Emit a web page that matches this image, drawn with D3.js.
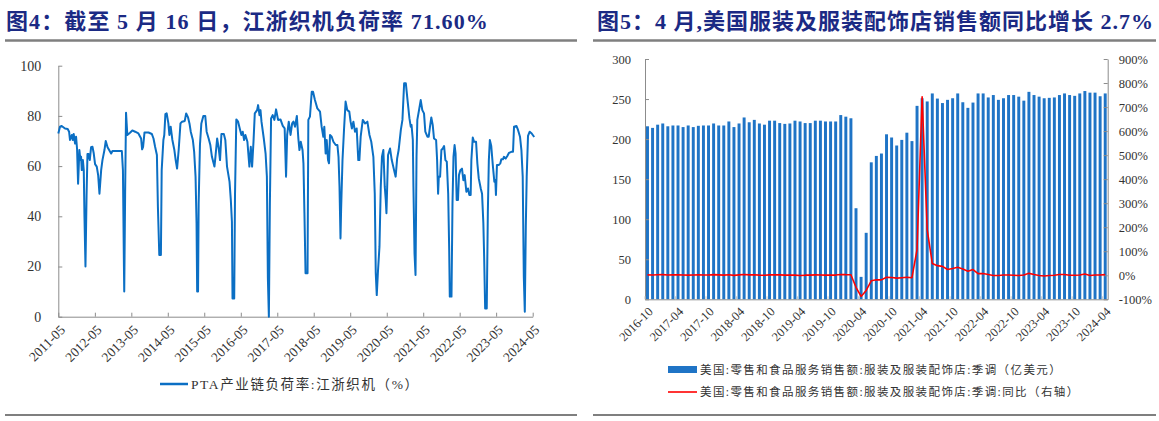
<!DOCTYPE html>
<html>
<head>
<meta charset="utf-8">
<script src="https://cdn.jsdelivr.net/npm/d3@7"></script>
<style>
  body { margin: 0; background: #fff; }
  svg { display: block; }
  .title { font-family: "Liberation Serif", "Noto Sans CJK SC", serif; font-weight: bold; fill: #1b2a84; }
  .tick text, .lbl { font-family: "Liberation Serif", "Noto Sans CJK SC", serif; fill: #333; }
  .legend { font-family: "Liberation Serif", "Noto Sans CJK SC", serif; fill: #333; }
</style>
</head>
<body>
<svg id="chart" width="1159" height="421"></svg>
<script>
// ---- left chart: weekly loom load rate, Jiangsu & Zhejiang (%)
const loadRate = [
  ["2011-05-01", 73], ["2011-05-18", 75.7], ["2011-06-04", 76], ["2011-07-07", 75], ["2011-08-03", 74.8],
  ["2011-08-17", 73.7], ["2011-08-26", 70.4], ["2011-09-13", 72.4], ["2011-09-23", 70.4], ["2011-10-02", 72.8],
  ["2011-10-16", 69], ["2011-10-26", 71.7], ["2011-11-05", 66.7], ["2011-11-15", 53], ["2011-11-28", 66.4],
  ["2011-12-08", 62.4], ["2011-12-15", 63.7], ["2011-12-22", 58.4], ["2012-01-02", 62.4], ["2012-01-11", 58.4],
  ["2012-01-18", 39.8], ["2012-01-28", 20], ["2012-02-08", 48.5], ["2012-02-17", 64.8], ["2012-02-28", 64.8],
  ["2012-03-11", 62.4], ["2012-03-24", 67.5], ["2012-04-07", 67.7], ["2012-04-20", 65], ["2012-05-03", 60.8],
  ["2012-05-20", 59.8], ["2012-06-03", 56.4], ["2012-06-16", 49], ["2012-07-03", 58.4], ["2012-07-16", 62.4],
  ["2012-08-05", 66.4], ["2012-08-18", 70], ["2012-09-05", 67.5], ["2012-09-21", 66.4], ["2012-10-11", 65],
  ["2012-10-24", 66], ["2013-01-26", 66], ["2013-02-06", 58.4], ["2013-02-16", 20], ["2013-02-19", 10],
  ["2013-02-28", 49], ["2013-03-09", 81.3], ["2013-03-22", 72.4], ["2013-04-18", 73.3], ["2013-05-11", 74.2],
  ["2013-06-08", 73.7], ["2013-07-11", 73], ["2013-08-07", 71], ["2013-08-17", 66.7], ["2013-08-27", 67.7],
  ["2013-09-10", 73.4], ["2013-10-20", 73.4], ["2013-11-22", 72.8], ["2013-12-09", 71], ["2013-12-25", 67.7],
  ["2014-01-12", 64.4], ["2014-01-22", 43.8], ["2014-02-05", 24.6], ["2014-02-21", 24.6], ["2014-03-01", 58.4],
  ["2014-03-18", 70.4], ["2014-03-27", 72.4], ["2014-04-07", 80.7], ["2014-04-20", 81], ["2014-05-07", 77],
  ["2014-05-17", 72.4], ["2014-05-30", 75.7], ["2014-06-16", 70.4], ["2014-07-06", 66.4], ["2014-07-19", 62.4],
  ["2014-08-02", 59], ["2014-08-18", 66.4], ["2014-09-05", 77], ["2014-09-21", 77.7], ["2014-10-18", 78],
  ["2014-11-01", 81], ["2014-11-20", 79.4], ["2014-12-04", 77], ["2014-12-17", 73.7], ["2015-01-07", 70.4],
  ["2015-01-20", 65.7], ["2015-02-03", 55.8], ["2015-02-13", 37.2], ["2015-02-19", 10], ["2015-02-28", 10],
  ["2015-03-06", 45], ["2015-03-19", 68.4], ["2015-04-02", 77], ["2015-04-22", 80], ["2015-05-11", 80],
  ["2015-05-25", 73.7], ["2015-06-14", 71], ["2015-07-01", 68.4], ["2015-07-17", 63.7], ["2015-08-11", 59.8],
  ["2015-08-21", 63.7], ["2015-09-07", 71], ["2015-09-23", 67], ["2015-10-06", 62.4], ["2015-10-20", 72.8],
  ["2015-11-13", 72.8], ["2015-11-28", 70.4], ["2015-12-15", 59.8], ["2016-01-09", 53.8], ["2016-01-22", 46.5],
  ["2016-02-02", 37.8], ["2016-02-08", 7.3], ["2016-02-25", 7.3], ["2016-03-04", 49], ["2016-03-17", 78.6],
  ["2016-04-04", 77.7], ["2016-04-24", 74.4], ["2016-05-07", 72.4], ["2016-05-20", 73.7], ["2016-06-03", 70.4],
  ["2016-06-16", 72.4], ["2016-07-06", 69.7], ["2016-07-26", 59.8], ["2016-08-09", 67.7], ["2016-08-22", 59.8],
  ["2016-09-05", 69.7], ["2016-09-18", 81], ["2016-10-11", 82.3], ["2016-10-21", 84.3], ["2016-11-04", 80.3],
  ["2016-11-14", 82.3], ["2016-11-24", 77.7], ["2016-12-17", 71], ["2017-01-04", 65], ["2017-01-17", 55.8],
  ["2017-01-27", 15.3], ["2017-02-06", 0], ["2017-02-16", 45], ["2017-02-28", 79], ["2017-03-16", 80.3],
  ["2017-04-02", 78.4], ["2017-04-19", 82.6], ["2017-05-09", 78.4], ["2017-06-02", 78.6], ["2017-06-25", 76],
  ["2017-07-14", 75], ["2017-07-28", 55.8], ["2017-08-08", 72.4], ["2017-08-24", 77.7], ["2017-09-11", 72.4],
  ["2017-09-27", 77], ["2017-10-10", 77.7], ["2017-10-26", 75.7], ["2017-11-13", 80], ["2017-11-28", 71],
  ["2017-12-09", 66.4], ["2017-12-22", 69.7], ["2018-01-09", 66.4], ["2018-01-18", 61.1], ["2018-01-28", 41.2],
  ["2018-02-08", 17.3], ["2018-02-28", 17.3], ["2018-03-08", 78.4], ["2018-03-24", 79.7], ["2018-04-11", 89.6],
  ["2018-04-24", 89.6], ["2018-05-13", 86.3], ["2018-06-06", 83], ["2018-07-03", 81.7], ["2018-07-19", 75.7],
  ["2018-08-05", 71.7], ["2018-08-15", 75.7], ["2018-08-28", 65], ["2018-09-08", 70.4], ["2018-09-21", 62.4],
  ["2018-10-01", 61.1], ["2018-10-11", 72.4], ["2018-10-28", 71.7], ["2018-11-14", 69.7], ["2018-12-07", 68.4],
  ["2018-12-24", 68.4], ["2019-01-04", 63.7], ["2019-01-14", 51.8], ["2019-01-24", 31.2], ["2019-01-30", 42.5],
  ["2019-02-13", 62.4], ["2019-02-28", 74.4], ["2019-03-16", 85.7], ["2019-04-02", 82.3], ["2019-04-22", 81.7],
  ["2019-05-05", 77.7], ["2019-05-18", 75], ["2019-06-02", 77.7], ["2019-06-18", 73.7], ["2019-07-05", 75],
  ["2019-07-21", 62.4], ["2019-08-01", 62.4], ["2019-08-14", 71.7], ["2019-09-04", 78.4], ["2019-09-27", 77],
  ["2019-10-20", 77.7], ["2019-11-10", 72.4], ["2019-11-28", 69.7], ["2019-12-19", 63.7], ["2020-01-02", 49],
  ["2020-01-12", 17.3], ["2020-01-22", 8.6], ["2020-02-02", 17.3], ["2020-02-18", 27.9], ["2020-03-02", 51.8],
  ["2020-03-14", 63.7], ["2020-03-28", 66.4], ["2020-04-11", 51.8], ["2020-04-21", 46.5], ["2020-04-28", 41.2],
  ["2020-05-14", 64.4], ["2020-06-03", 67], ["2020-06-20", 62.4], ["2020-07-13", 58.4], ["2020-07-29", 55.8],
  ["2020-08-13", 63.1], ["2020-08-28", 66.4], ["2020-09-19", 74.4], ["2020-10-05", 78.4], ["2020-10-22", 93],
  ["2020-11-08", 93], ["2020-11-25", 86.3], ["2020-12-14", 79], ["2020-12-27", 75.7], ["2021-01-04", 76.4],
  ["2021-01-17", 70.4], ["2021-01-23", 51.8], ["2021-02-03", 25.2], ["2021-02-13", 16.6], ["2021-02-23", 63.7],
  ["2021-03-03", 78.4], ["2021-03-20", 82.3], ["2021-04-06", 86.3], ["2021-04-22", 82.3], ["2021-05-09", 81],
  ["2021-05-22", 73.7], ["2021-06-12", 71.7], ["2021-06-25", 71.7], ["2021-07-08", 75.7], ["2021-07-21", 79.4],
  ["2021-08-04", 76.4], ["2021-08-17", 71], ["2021-09-07", 70.4], ["2021-09-17", 62.4], ["2021-09-27", 49],
  ["2021-10-04", 55.8], ["2021-10-17", 55.8], ["2021-10-30", 66.4], ["2021-11-13", 67], ["2021-11-26", 68],
  ["2021-12-09", 62.4], ["2021-12-23", 61.8], ["2022-01-06", 49], ["2022-01-16", 26.6], ["2022-01-22", 8],
  ["2022-02-08", 8], ["2022-02-18", 45], ["2022-02-28", 63.7], ["2022-03-11", 68.4], ["2022-03-21", 65],
  ["2022-04-01", 46.5], ["2022-04-14", 46.5], ["2022-04-24", 56.4], ["2022-05-08", 58.4], ["2022-05-24", 59],
  ["2022-06-07", 54.4], ["2022-06-20", 56.4], ["2022-07-07", 49.8], ["2022-07-23", 51.1], ["2022-08-06", 48.5],
  ["2022-08-19", 48.5], ["2022-08-26", 62.4], ["2022-09-09", 71.4], ["2022-09-22", 69.7], ["2022-10-12", 69.7],
  ["2022-10-25", 61.1], ["2022-11-08", 55.1], ["2022-11-28", 51.1], ["2022-12-11", 49], ["2022-12-24", 37.2],
  ["2023-01-01", 23.9], ["2023-01-11", 3.3], ["2023-01-27", 3.3], ["2023-02-07", 41.8], ["2023-02-17", 62.4],
  ["2023-02-27", 70.4], ["2023-03-13", 68], ["2023-03-30", 59.8], ["2023-04-13", 53.8], ["2023-04-23", 54.4],
  ["2023-04-29", 48.5], ["2023-05-09", 60.4], ["2023-05-26", 60.4], ["2023-06-12", 61.1], ["2023-06-22", 62.7],
  ["2023-07-08", 62.7], ["2023-07-18", 63.7], ["2023-08-05", 63], ["2023-08-21", 64], ["2023-09-07", 65.3],
  ["2023-09-30", 65.7], ["2023-10-17", 65.7], ["2023-10-27", 75.7], ["2023-11-20", 76], ["2023-12-06", 74.4],
  ["2023-12-26", 71.7], ["2024-01-09", 66.4], ["2024-01-22", 55.8], ["2024-02-02", 15.9], ["2024-02-12", 2],
  ["2024-02-22", 35.9], ["2024-03-02", 55.8], ["2024-03-15", 72], ["2024-04-01", 73.7], ["2024-04-21", 73],
  ["2024-05-16", 71.6]
];
const loadTicks = ["2011-05", "2012-05", "2013-05", "2014-05", "2015-05", "2016-05", "2017-05",
  "2018-05", "2019-05", "2020-05", "2021-05", "2022-05", "2023-05", "2024-05"];
const loadYTicks = [0, 20, 40, 60, 80, 100];

// ---- right chart: US clothing & accessories store sales, monthly from 2016-10
const salesStart = "2016-10";
const salesValues = [
  216, 214, 218, 219.5, 216, 217, 217, 215, 217, 215, 216.6, 217, 217, 219.5, 217, 217, 222, 215, 219.5, 227,
  221, 224, 219.5, 218, 223, 223, 220, 219, 219.5, 223, 222, 220, 220, 223, 223, 222, 222, 222, 230, 228,
  226, 113.7, 28, 83, 171, 179, 182, 206, 202, 192, 199, 208, 197.5, 241.5, 251, 247, 257, 250.6, 245, 249,
  251, 257, 246, 239, 245.6, 257, 257, 252, 255, 249, 251, 255, 255, 253, 248, 259, 255, 253, 251, 251.5,
  252, 255, 257, 255, 254, 257, 260, 258, 258, 253.5, 257
];
const yoyValues = [
  1.5, 1.2, 2.0, 2.5, 1.0, 1.8, 1.6, 1.0, 0.8, 1.2, 1.5, 1.0, 1.4, 2.8, 1.6, 0.5, 2.3, -0.5, 1.8, 3.5,
  1.5, 2.2, 0.6, 0.2, 1.8, 1.6, 1.5, 0.8, 1.3, 0.6, -0.8, 0.4, 0.6, 1.5, 1.2, 0.5, 1.0, 0.8, 3.5, 2.5,
  2.0, -50, -88, -63, -23, -19, -19, -8, -9, -12, -10, -8, -10, 107, 743, 190, 49, 40, 37, 24,
  28, 33, 26, 17, 24, 7, 7, 3, -1, -1, 1, 1, 0, -1, 1, 8, 3, -1, -3, -1,
  0, 3, 3, 0, 0, 1, 5, -1, 1, 1, 2.7
];
const salesTicks = ["2016-10", "2017-04", "2017-10", "2018-04", "2018-10", "2019-04", "2019-10", "2020-04",
  "2020-10", "2021-04", "2021-10", "2022-04", "2022-10", "2023-04", "2023-10", "2024-04"];
const salesYTicks = [0, 50, 100, 150, 200, 250, 300];
const yoyYTicks = [-100, 0, 100, 200, 300, 400, 500, 600, 700, 800, 900];

const svg = d3.select('#chart');
const parseDay = d3.timeParse('%Y-%m-%d');
const parseMonth = d3.timeParse('%Y-%m');
const fmtMonth = d3.timeFormat('%Y-%m');
const axisColor = '#8c8c8c';

function styleAxis(g, size) {
  g.select('.domain').attr('stroke', axisColor);
  g.selectAll('.tick line').attr('stroke', axisColor);
  g.selectAll('.tick text').style('font-size', size + 'px');
}

// titles and frame lines
svg.append('text').attr('class', 'title').attr('x', 6).attr('y', 29)
  .style('font-size', '22px').style('letter-spacing', '1.1px')
  .text('图4：截至 5 月 16 日，江浙织机负荷率 71.60%');
svg.append('text').attr('class', 'title').attr('x', 597).attr('y', 29)
  .style('font-size', '22px').style('letter-spacing', '1px')
  .text('图5：4 月,美国服装及服装配饰店销售额同比增长 2.7%');
[[5, 577], [593, 1156]].forEach(([x1, x2]) => {
  svg.append('line').attr('x1', x1).attr('x2', x2).attr('y1', 40.5).attr('y2', 40.5)
    .attr('stroke', '#7f7f7f').attr('stroke-width', 2.5);
  svg.append('line').attr('x1', x1).attr('x2', x2).attr('y1', 415).attr('y2', 415)
    .attr('stroke', '#555').attr('stroke-width', 1.5);
});

// ---- left chart
{
  const x = d3.scaleTime()
    .domain([parseMonth(loadTicks[0]), parseMonth(loadTicks[loadTicks.length - 1])])
    .range([58.3, 532.7]);
  const y = d3.scaleLinear().domain([0, 100]).range([316.7, 65.7]);
  const data = loadRate.map((d) => ({ date: parseDay(d[0]), value: d[1] }));

  const yAxis = svg.append('g').attr('transform', `translate(${x.range()[0]},0)`)
    .call(d3.axisLeft(y).tickValues(loadYTicks).tickSize(-4).tickPadding(17).tickSizeOuter(0));
  styleAxis(yAxis, 14);

  const xAxis = svg.append('g').attr('transform', `translate(0,${y(0)})`)
    .call(d3.axisBottom(x).tickValues(loadTicks.map(parseMonth)).tickSize(-4).tickSizeOuter(0)
      .tickFormat(fmtMonth));
  styleAxis(xAxis, 13.5);
  xAxis.selectAll('.tick text')
    .attr('text-anchor', 'end')
    .attr('dy', 0)
    .attr('transform', 'translate(5,12) rotate(-45)');

  svg.append('path').datum(data)
    .attr('fill', 'none')
    .attr('stroke', '#0b6fc4')
    .attr('stroke-width', 2)
    .attr('stroke-linejoin', 'round')
    .attr('d', d3.line().x((d) => x(d.date)).y((d) => y(d.value)));

  svg.append('line').attr('x1', 160).attr('x2', 188).attr('y1', 384).attr('y2', 384)
    .attr('stroke', '#0b6fc4').attr('stroke-width', 2.5);
  svg.append('text').attr('class', 'legend').attr('x', 191).attr('y', 389)
    .style('font-size', '13.5px').style('letter-spacing', '1.6px')
    .text('PTA产业链负荷率:江浙织机（%）');
}

// ---- right chart
{
  const start = parseMonth(salesStart);
  const months = salesValues.map((v, i) => d3.timeMonth.offset(start, i));
  const x = d3.scaleBand().domain(months.map(fmtMonth)).range([645, 1107.7])
    .paddingInner(0.42).paddingOuter(0.2);
  const yL = d3.scaleLinear().domain([0, 300]).range([299.3, 59]);
  const yR = d3.scaleLinear().domain([-100, 900]).range([299.3, 59]);

  svg.append('g').selectAll('rect').data(salesValues).join('rect')
    .attr('x', (d, i) => x(fmtMonth(months[i])))
    .attr('y', (d) => yL(d))
    .attr('width', x.bandwidth())
    .attr('height', (d) => yL(0) - yL(d))
    .attr('fill', '#1f74c6');

  const yAxisL = svg.append('g').attr('transform', `translate(645,0)`)
    .call(d3.axisLeft(yL).tickValues(salesYTicks).tickSize(-4).tickPadding(14).tickSizeOuter(0));
  styleAxis(yAxisL, 12.5);

  const yAxisR = svg.append('g').attr('transform', `translate(1107.7,0)`)
    .call(d3.axisRight(yR).tickValues(yoyYTicks).tickSize(-4).tickPadding(11).tickSizeOuter(0)
      .tickFormat((d) => d + '%'));
  styleAxis(yAxisR, 12.5);

  const xAxis = svg.append('g').attr('transform', `translate(0,${yL(0)})`)
    .call(d3.axisBottom(x).tickValues(salesTicks).tickSize(-3).tickSizeOuter(0));
  styleAxis(xAxis, 12.5);
  xAxis.selectAll('.tick line').attr('transform', `translate(${-x.step() / 2},0)`).attr('stroke', '#c8c8c8');
  xAxis.selectAll('.tick text')
    .attr('text-anchor', 'end')
    .attr('dy', 0)
    .attr('transform', 'translate(4,11) rotate(-45)');

  svg.append('path').datum(yoyValues)
    .attr('fill', 'none')
    .attr('stroke', '#ff0000')
    .attr('stroke-width', 1.6)
    .attr('stroke-linejoin', 'round')
    .attr('d', d3.line()
      .x((d, i) => x(fmtMonth(months[i])) + x.bandwidth() / 2)
      .y((d) => yR(d)));

  svg.append('rect').attr('x', 668).attr('y', 366).attr('width', 29).attr('height', 7).attr('fill', '#1f74c6');
  svg.append('text').attr('class', 'legend').attr('x', 700).attr('y', 374)
    .style('font-size', '11.5px').style('letter-spacing', '1.4px')
    .text('美国:零售和食品服务销售额:服装及服装配饰店:季调（亿美元）');
  svg.append('line').attr('x1', 668).attr('x2', 697).attr('y1', 392).attr('y2', 392)
    .attr('stroke', '#ff0000').attr('stroke-width', 1.6);
  svg.append('text').attr('class', 'legend').attr('x', 700).attr('y', 396)
    .style('font-size', '11.5px').style('letter-spacing', '1.4px')
    .text('美国:零售和食品服务销售额:服装及服装配饰店:季调:同比（右轴）');
}
</script>
</body>
</html>
